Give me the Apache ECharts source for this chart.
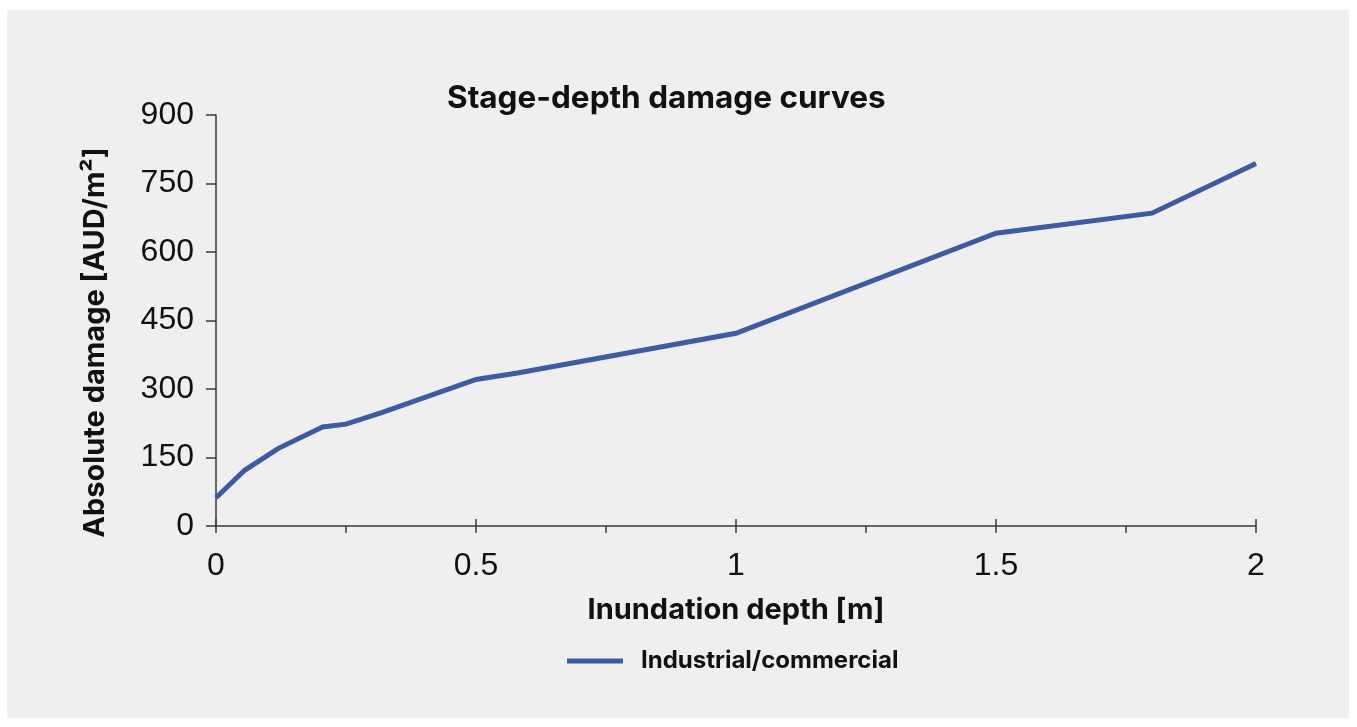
<!DOCTYPE html>
<html>
<head>
<meta charset="utf-8">
<script src="https://cdn.jsdelivr.net/npm/echarts@6/dist/echarts.min.js"></script>
<style>
  html, body { margin: 0; padding: 0; background: #ffffff; }
  #chart { position: absolute; left: 7px; top: 10px; width: 1342px; height: 708px; background: #efefef; }
</style>
</head>
<body>
<div id="chart"></div>
<script>
// inundation depth [m] and damage [AUD/m2]
var depths  = [0, 0.055, 0.12, 0.205, 0.25, 0.32, 0.5, 0.58, 1.0, 1.5, 1.8, 2.0];
var damages = [62, 122, 170, 217, 223, 249, 321, 335, 422, 641, 685, 794];
var seriesName = 'Industrial/commercial';
var yTicks = [0, 150, 300, 450, 600, 750, 900];
var xTicks = [0, 0.5, 1, 1.5, 2];

var points = depths.map(function (d, i) { return [d, damages[i]]; });

var chart = echarts.init(document.getElementById('chart'));
var axisColor = '#3a3a3a';
var boldFont = 'Inter, "Liberation Sans", sans-serif';
var numFont = '"Liberation Sans", Arial, sans-serif';

chart.setOption({
  animation: false,
  title: {
    text: 'Stage-depth damage curves',
    left: 435,
    top: 68,
    textStyle: { fontFamily: boldFont, fontWeight: 'bold', fontSize: 31.5, color: '#111' }
  },
  legend: {
    data: [seriesName],
    left: 555,
    top: 634,
    icon: 'rect',
    itemWidth: 56,
    itemHeight: 5,
    textStyle: { fontFamily: boldFont, fontWeight: 'bold', fontSize: 24, color: '#111', padding: [0, 0, 0, 13] }
  },
  grid: { left: 209, right: 93, top: 105, bottom: 192, containLabel: false },
  xAxis: [
    {
      type: 'value',
      min: xTicks[0],
      max: xTicks[xTicks.length - 1],
      interval: 0.5,
      name: 'Inundation depth [m]',
      nameLocation: 'middle',
      nameGap: 70,
      nameTextStyle: { fontFamily: boldFont, fontWeight: 'bold', fontSize: 29, color: '#111' },
      axisLine: { show: true, lineStyle: { color: axisColor, width: 1.5 } },
      axisTick: { show: true, length: 7, lineStyle: { color: axisColor, width: 1.5 } },
      minorTick: { show: true, splitNumber: 2, length: 7, lineStyle: { color: axisColor, width: 1.5 } },
      splitLine: { show: false },
      axisLabel: {
        margin: 24, fontFamily: numFont, fontSize: 32, color: '#111',
        formatter: function (v) { return String(v); }
      }
    },
    {
      type: 'value',
      position: 'bottom',
      min: xTicks[0],
      max: xTicks[xTicks.length - 1],
      interval: 0.5,
      axisLine: { show: false },
      axisTick: { show: true, inside: true, length: 7, lineStyle: { color: axisColor, width: 1.5 } },
      axisLabel: { show: false },
      splitLine: { show: false }
    }
  ],
  yAxis: {
    type: 'value',
    min: yTicks[0],
    max: yTicks[yTicks.length - 1],
    interval: 150,
    name: 'Absolute damage [AUD/m²]',
    nameLocation: 'middle',
    nameGap: 106,
    nameTextStyle: { fontFamily: boldFont, fontWeight: 'bold', fontSize: 29, color: '#111', padding: [0, 44, 0, 0] },
    axisLine: { show: true, lineStyle: { color: axisColor, width: 1.5 } },
    axisTick: { show: true, length: 10, lineStyle: { color: axisColor, width: 1.5 } },
    splitLine: { show: false },
    axisLabel: { margin: 22, fontFamily: numFont, fontSize: 32, color: '#111' }
  },
  series: [
    {
      name: seriesName,
      type: 'line',
      xAxisIndex: 0,
      data: points,
      showSymbol: false,
      symbol: 'none',
      itemStyle: { color: '#3c5ba1' },
      lineStyle: { color: '#3c5ba1', width: 5, join: 'miter' }
    }
  ]
});
</script>
</body>
</html>
